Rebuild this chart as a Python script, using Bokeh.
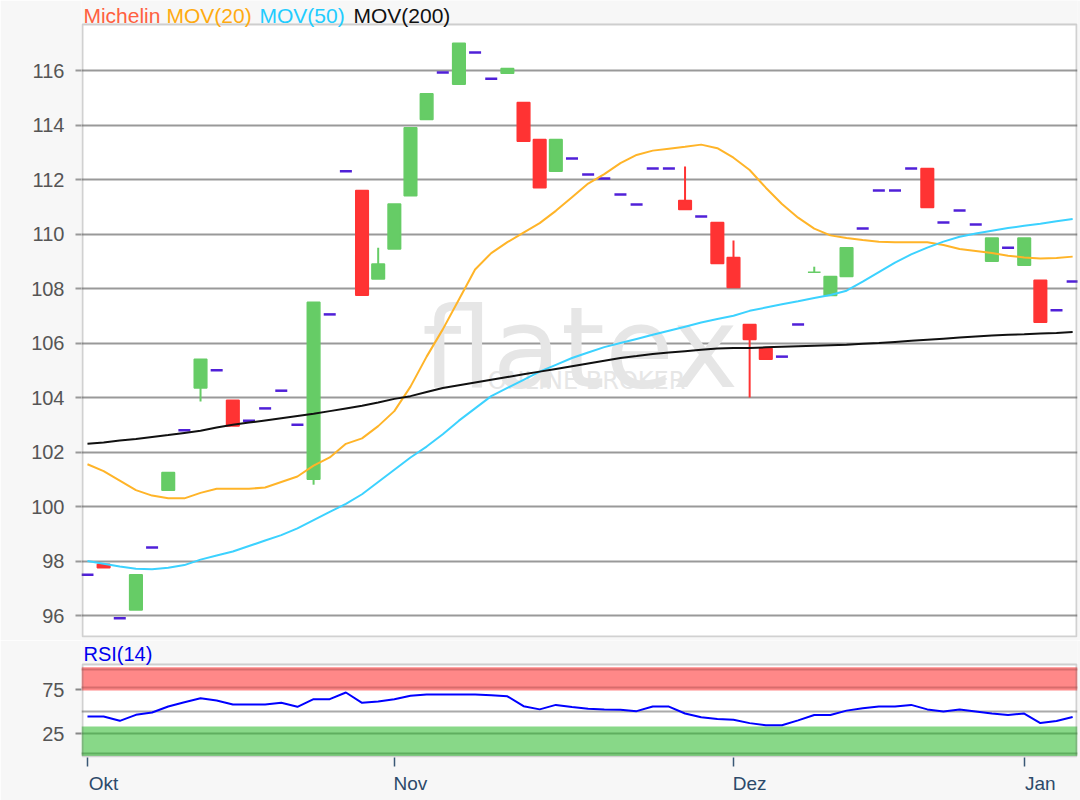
import re
from bokeh.plotting import figure
from bokeh.layouts import column
from bokeh.models import (Range1d, FixedTicker, Label, Span, BoxAnnotation,
                          ColumnDataSource, LinearAxis)
from bokeh.embed import file_html
from bokeh.resources import INLINE

# ---------------- data ----------------
days = list(range(62))
opens = [97.5, 97.88, 95.9, 96.2, 98.5, 100.6, 102.8, 104.35, 105.0, 103.9,
         103.15, 103.6, 104.25, 103.0, 101.0, 107.05, 112.3, 111.6, 108.35, 109.45,
         111.4, 114.2, 115.93, 115.5, 116.66, 115.7, 115.9, 114.83, 113.47, 112.3,
         112.77, 112.18, 112.04, 111.45, 111.08, 112.4, 112.4, 111.23, 110.64, 110.42,
         109.14, 106.68, 105.8, 105.5, 106.68, 108.6, 107.74, 108.44, 110.2, 111.6,
         111.6, 112.4, 112.4, 110.42, 110.86, 110.35, 109.0, 109.5, 108.85, 108.3,
         107.2, 108.26]
highs = [97.5, 97.88, 95.9, 97.5, 98.5, 101.25, 102.8, 105.4, 105.0, 103.9,
         103.15, 103.6, 104.25, 103.0, 107.5, 107.05, 112.3, 111.6, 109.5, 111.1,
         113.9, 115.15, 115.93, 117.0, 116.66, 115.7, 116.07, 114.83, 113.47, 113.47,
         112.77, 112.18, 112.04, 111.45, 111.08, 112.4, 112.4, 112.48, 110.64, 110.42,
         109.76, 106.68, 105.8, 105.5, 106.68, 108.8, 108.44, 109.5, 110.2, 111.6,
         111.6, 112.4, 112.4, 110.42, 110.86, 110.35, 109.85, 109.5, 109.85, 108.3,
         107.2, 108.26]
lows = [97.5, 97.75, 95.9, 96.2, 98.5, 100.6, 102.8, 103.85, 105.0, 102.95,
        103.15, 103.6, 104.25, 103.0, 100.8, 107.05, 112.3, 107.75, 108.35, 109.45,
        111.4, 114.2, 115.93, 115.5, 116.66, 115.7, 115.9, 113.4, 111.7, 112.3,
        112.77, 112.18, 112.04, 111.45, 111.08, 112.4, 112.4, 110.9, 110.64, 108.92,
        108.04, 104.0, 105.4, 105.5, 106.68, 108.6, 107.74, 108.44, 110.2, 111.6,
        111.6, 112.4, 110.97, 110.42, 110.86, 110.35, 109.0, 109.5, 108.85, 106.76,
        107.2, 108.26]
closes = [97.5, 97.75, 95.9, 97.5, 98.5, 101.25, 102.8, 105.4, 105.0, 102.95,
          103.15, 103.6, 104.25, 103.0, 107.5, 107.05, 112.3, 107.75, 108.9, 111.1,
          113.9, 115.15, 115.93, 117.0, 116.66, 115.7, 116.07, 113.4, 111.7, 113.47,
          112.77, 112.18, 112.04, 111.45, 111.08, 112.4, 112.4, 110.9, 110.64, 108.92,
          108.04, 106.13, 105.4, 105.5, 106.68, 108.6, 108.44, 109.5, 110.2, 111.6,
          111.6, 112.4, 110.97, 110.42, 110.86, 110.35, 109.85, 109.5, 109.85, 106.76,
          107.2, 108.26]
mov20 = [101.55, 101.3, 100.95, 100.6, 100.4, 100.3, 100.3, 100.5, 100.65, 100.65,
         100.65, 100.7, 100.9, 101.1, 101.5, 101.8, 102.3, 102.5, 102.95, 103.5,
         104.4, 105.5, 106.5, 107.6, 108.7, 109.3, 109.7, 110.05, 110.4, 110.85,
         111.35, 111.85, 112.2, 112.6, 112.9, 113.06, 113.13, 113.2, 113.28, 113.15,
         112.8, 112.35, 111.7, 111.1, 110.6, 110.2, 109.95, 109.85, 109.78, 109.72,
         109.7, 109.7, 109.7, 109.6, 109.45, 109.38, 109.3, 109.2, 109.14, 109.1,
         109.12, 109.17]
mov50 = [98.0, 97.9, 97.8, 97.72, 97.7, 97.75, 97.85, 98.05, 98.2, 98.35,
         98.55, 98.75, 98.95, 99.2, 99.5, 99.8, 100.1, 100.45, 100.9, 101.35,
         101.8, 102.2, 102.65, 103.15, 103.6, 104.05, 104.35, 104.65, 104.95, 105.2,
         105.45, 105.65, 105.85, 106.0, 106.15, 106.3, 106.45, 106.6, 106.75, 106.88,
         107.0, 107.18, 107.3, 107.42, 107.53, 107.65, 107.76, 107.92, 108.25, 108.6,
         108.95, 109.25, 109.5, 109.72, 109.9, 110.02, 110.12, 110.22, 110.3, 110.38,
         110.47, 110.55]
mov200 = [102.3, 102.35, 102.42, 102.48, 102.55, 102.62, 102.7, 102.78, 102.9, 103.0,
          103.08, 103.16, 103.24, 103.32, 103.4, 103.5, 103.6, 103.7, 103.82, 103.95,
          104.05, 104.2, 104.35, 104.45, 104.55, 104.65, 104.75, 104.85, 104.95, 105.05,
          105.15, 105.25, 105.35, 105.45, 105.52, 105.6, 105.65, 105.7, 105.75, 105.8,
          105.82, 105.82, 105.84, 105.86, 105.88, 105.9, 105.92, 105.94, 105.97, 106.0,
          106.04, 106.08, 106.12, 106.16, 106.2, 106.24, 106.28, 106.3, 106.32, 106.35,
          106.37, 106.4]
rsi = [44.3, 44.3, 39.4, 46.2, 48.9, 55.7, 60.6, 65.1, 62.5, 58.0,
       58.0, 58.0, 59.9, 55.3, 64.0, 64.0, 71.6, 59.9, 61.4, 64.0,
       68.0, 69.3, 69.3, 69.3, 69.3, 68.5, 67.3, 56.0, 52.4, 57.5,
       55.0, 53.2, 52.4, 52.0, 50.4, 55.6, 55.6, 47.7, 43.4, 41.5,
       40.7, 36.8, 34.4, 34.4, 39.9, 46.1, 46.1, 51.0, 53.6, 55.6,
       55.6, 57.5, 52.4, 50.1, 52.4, 50.1, 47.7, 46.1, 47.7, 36.8,
       39.1, 43.8]
month_ticks = [0, 19, 40, 58]
month_labels = ["Okt", "Nov", "Dez", "Jan"]
price_ticks = [96, 98, 100, 102, 104, 106, 108, 110, 112, 114, 116]
rsi_ticks = [25, 75]
legend_items = ["Michelin", "MOV(20)", "MOV(50)", "MOV(200)"]

# ---------------- styles ----------------
FONT = "Liberation Sans"
BG = "#f7f7f7"
GREEN = "#66cc66"
RED = "#ff3333"
DASH = "#5020d8"
C20 = "#ffb428"
C50 = "#3cd2ff"
C200 = "#111111"
FRAME = "#666666"
legend_colors = ["#ff6040", "#ffaa10", "#22ccff", "#111111"]
legend_x = [-0.25, 4.89, 10.65, 16.47]
label_shift = 1.0   # month labels start at their tick

X0, X1 = -0.37, 61.3
x_range = Range1d(X0, X1)

# ---------------- main price panel ----------------
P_TOP_VISIBLE = 117.69
p1 = figure(width=1080, height=640, x_range=x_range, y_range=Range1d(95.193, 118.569),
            output_backend="svg", toolbar_location=None, x_axis_location=None,
            min_border_left=81, min_border_right=3, min_border_top=0, min_border_bottom=3,
            background_fill_color=BG, border_fill_color=BG, outline_line_color=None)
p1.add_layout(BoxAnnotation(top=P_TOP_VISIBLE, fill_color="white", fill_alpha=1,
                            line_color=None, level="image"))
p1.add_layout(BoxAnnotation(top=P_TOP_VISIBLE, bottom=95.23, left=X0 + 0.06, right=X1 - 0.06,
                            fill_color=None, line_color=FRAME, line_width=2, level="annotation"))
p1.yaxis.ticker = FixedTicker(ticks=price_ticks)
p1.yaxis.axis_line_color = None
p1.yaxis.major_tick_out = 6
p1.yaxis.major_tick_in = 0
p1.yaxis.major_tick_line_color = "#999999"
p1.yaxis.major_tick_line_width = 2
p1.yaxis.minor_tick_line_color = None
p1.yaxis.major_label_standoff = 11
p1.yaxis.major_label_text_font = FONT
p1.yaxis.major_label_text_font_size = "20px"
p1.yaxis.major_label_text_color = "#555555"
p1.ygrid.ticker = FixedTicker(ticks=price_ticks)
p1.ygrid.grid_line_color = "#999999"
p1.ygrid.grid_line_width = 2
for g in p1.xgrid:
    g.visible = False

# watermark
p1.add_layout(Label(x=30.5, y=105.83, text="flatex", text_font="DejaVu Sans",
                    text_font_size="112px", text_color="#e6e6e6", text_align="center",
                    text_baseline="alphabetic", level="underlay"))
p1.add_layout(Label(x=30.9, y=104.6, text="ONLINE BROKER", text_font="DejaVu Sans",
                    text_font_size="24px", text_color="#e6e6e6", text_align="center",
                    text_baseline="middle", level="underlay"))

# candles
bx, btop, bbot, bhi, blo, bcol = [], [], [], [], [], []
dx, dy = [], []
for i, o, h, l, c in zip(days, opens, highs, lows, closes):
    if h == l:
        dx.append(i)
        dy.append(c)
    else:
        bx.append(i)
        btop.append(max(o, c))
        bbot.append(min(o, c))
        bhi.append(h)
        blo.append(l)
        bcol.append(GREEN if c >= o else RED)
bsrc = ColumnDataSource(dict(x=bx, top=btop, bottom=bbot, hi=bhi, lo=blo, color=bcol))
p1.segment(x0="x", y0="lo", x1="x", y1="hi", color="color", line_width=2, source=bsrc)
p1.vbar(x="x", width=0.78, top="top", bottom="bottom", fill_color="color",
        line_color="color", line_width=1.5, source=bsrc)
p1.scatter(x=dx, y=dy, marker="dash", size=12, line_color=DASH, line_width=2.5)

# moving averages
p1.line(days, mov20, line_color=C20, line_width=2)
p1.line(days, mov50, line_color=C50, line_width=2)
p1.line(days, mov200, line_color=C200, line_width=2)

# legend text above the visible frame
for txt, col, lx in zip(legend_items, legend_colors, legend_x):
    p1.add_layout(Label(x=lx, y=118.02, text=txt, text_font=FONT, text_font_size="21px",
                        text_color=col, text_align="left", text_baseline="middle"))

# ---------------- RSI panel ----------------
R_TOP_VISIBLE = 103.4
p2 = figure(width=1080, height=160, x_range=x_range, y_range=Range1d(-2.27, 130.68),
            output_backend="svg", toolbar_location=None,
            min_border_left=81, min_border_right=3, min_border_top=0, min_border_bottom=43,
            background_fill_color=BG, border_fill_color=BG, outline_line_color=None)
p2.add_layout(BoxAnnotation(top=R_TOP_VISIBLE, fill_color="white", fill_alpha=1,
                            line_color=None, level="image"))
p2.add_layout(BoxAnnotation(bottom=73.9, top=100.3, fill_color="#ff8888", fill_alpha=1,
                            line_color=None, level="underlay"))
p2.add_layout(BoxAnnotation(bottom=-0.5, top=33.0, fill_color="#88d888", fill_alpha=1,
                            line_color=None, level="underlay"))
for loc, col in [(97.7, "#d86c6c"), (77.3, "#d86c6c"), (25, "#5fae5f"), (2.3, "#5fae5f"),
                 (50, "#aaaaaa")]:
    p2.add_layout(Span(location=loc, dimension="width", line_color=col, line_width=2,
                       level="underlay"))
p2.add_layout(BoxAnnotation(top=R_TOP_VISIBLE, bottom=-1.2, left=X0 + 0.06, right=X1 - 0.06,
                            fill_color=None, line_color=FRAME, line_width=2, level="annotation"))
p2.line(days, rsi, line_color="#0000ff", line_width=2)

p2.yaxis.ticker = FixedTicker(ticks=rsi_ticks)
p2.yaxis.axis_line_color = None
p2.yaxis.major_tick_out = 6
p2.yaxis.major_tick_in = 0
p2.yaxis.major_tick_line_color = "#888888"
p2.yaxis.major_tick_line_width = 2
p2.yaxis.minor_tick_line_color = None
p2.yaxis.major_label_standoff = 11
p2.yaxis.major_label_text_font = FONT
p2.yaxis.major_label_text_font_size = "20px"
p2.yaxis.major_label_text_color = "#555555"
p2.grid.visible = False

# tick marks at the month starts (no labels)
p2.xaxis.ticker = FixedTicker(ticks=month_ticks)
p2.xaxis.major_label_overrides = {t: "" for t in month_ticks}
p2.xaxis.axis_line_color = None
p2.xaxis.major_tick_out = 9
p2.xaxis.major_tick_in = 0
p2.xaxis.major_tick_line_color = "#3a5875"
p2.xaxis.major_tick_line_width = 1.5
p2.xaxis.minor_tick_line_color = None
p2.xaxis.major_label_standoff = 0

# month labels, placed so that each starts at its tick
label_pos = [round(t + label_shift, 3) for t in month_ticks]
lab_axis = LinearAxis(ticker=FixedTicker(ticks=label_pos),
                      major_label_overrides={pos: lab for pos, lab in zip(label_pos, month_labels)},
                      axis_line_color=None, major_tick_out=0, major_tick_in=0,
                      minor_tick_line_color=None, major_label_standoff=6,
                      major_label_text_font=FONT, major_label_text_font_size="19px",
                      major_label_text_color="#2c4a6a")
p2.add_layout(lab_axis, "below")

p2.add_layout(Label(x=-0.25, y=114.8, text="RSI(14)", text_font=FONT, text_font_size="20px",
                    text_color="#0000ee", text_align="left", text_baseline="middle"))

layout = column(p1, p2)
html = file_html(layout, INLINE)
html = re.sub(r"<body([^>]*)>", r'<body\1 style="margin:0;background:#f7f7f7;overflow:hidden;">', html, count=1)
open("out.html", "w").write(html)
